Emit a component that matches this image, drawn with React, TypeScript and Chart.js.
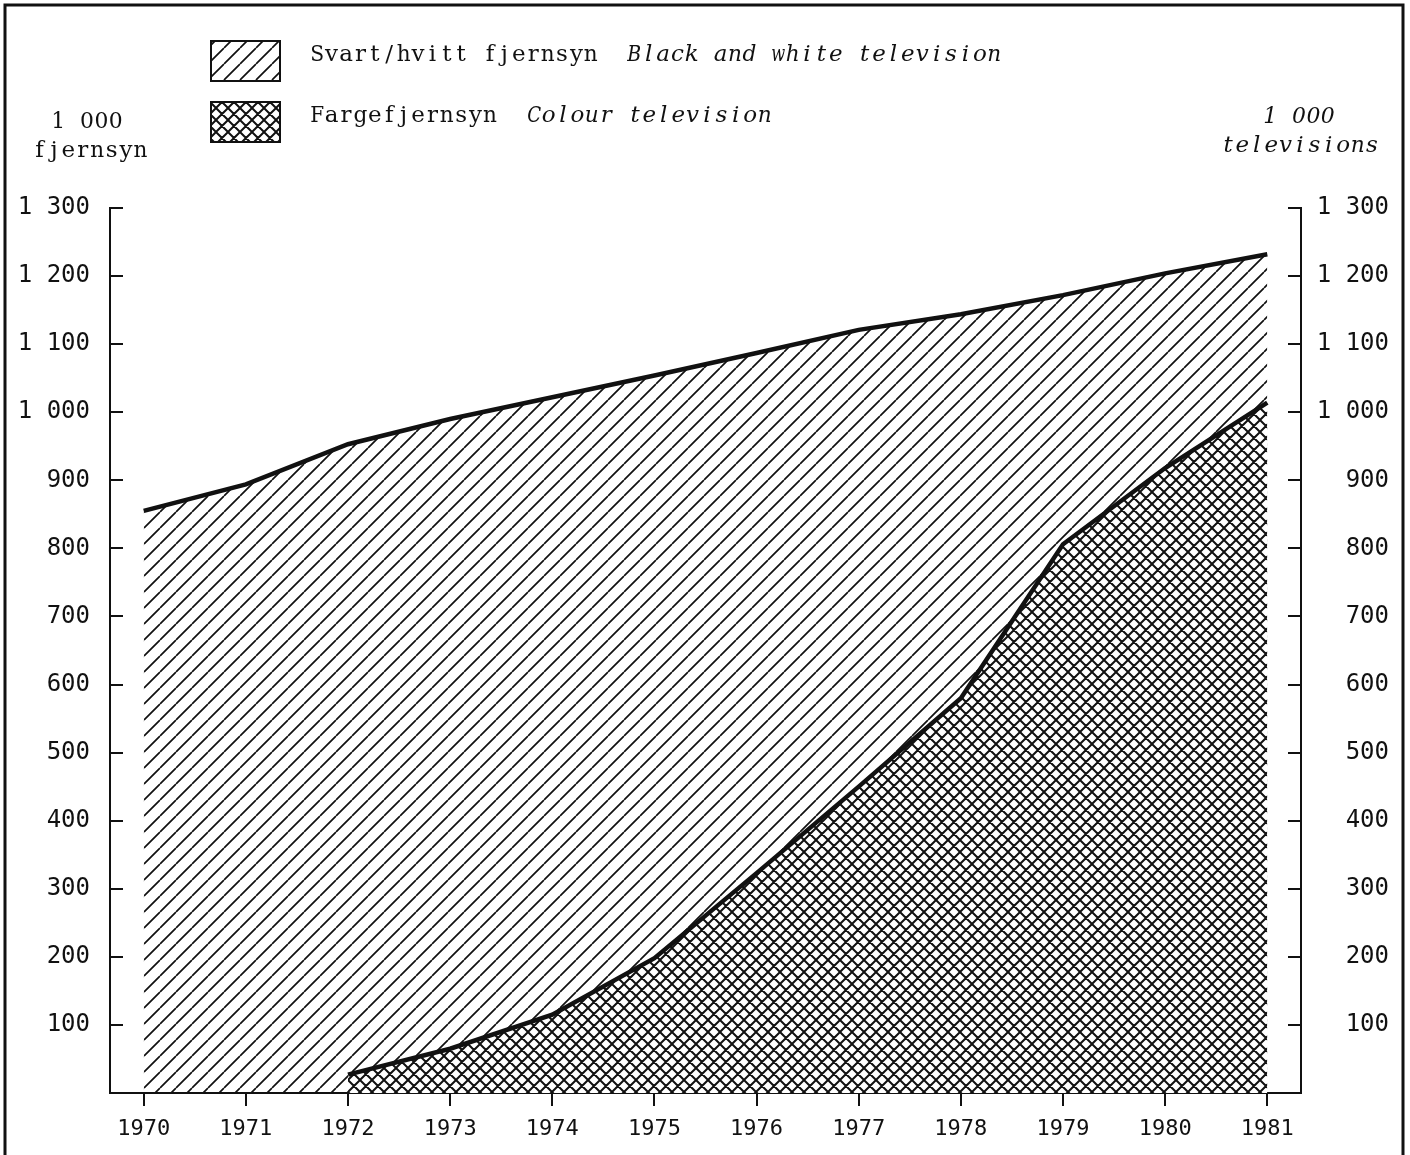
import React, { useEffect, useRef } from 'react';
import { Chart, registerables } from 'chart.js';

Chart.register(...registerables);

// ---- data ----
const years = [1970, 1971, 1972, 1973, 1974, 1975, 1976, 1977, 1978, 1979, 1980, 1981];
const totalTelevisions = [855, 894, 953, 990, 1022, 1054, 1087, 1121, 1144, 1172, 1204, 1232];
const colourTelevisions = [null, null, 27, 65, 115, 198, 323, 450, 580, 806, 918, 1014];
const yTickValues = [100, 200, 300, 400, 500, 600, 700, 800, 900, 1000, 1100, 1200, 1300];

const legendNo = ['Svart/hvitt fjernsyn', 'Fargefjernsyn'];
const legendEn = ['Black and white television', 'Colour television'];
const leftTitle = ['1 000', 'fjernsyn'];
const rightTitle = ['1 000', 'televisions'];

const INK = '#111';
const SERIF = '"DejaVu Serif", "Liberation Serif", serif';
const NUM = '"DejaVu Sans Mono", monospace';
const PITCH = 14.4;

function fmtY(v: number): string {
  if (v === 0) return '';
  if (v >= 1000) return '1 ' + String(v - 1000).padStart(3, '0');
  return String(v);
}

function makePattern(ctx: CanvasRenderingContext2D, size: number, lw: number, cross: boolean, bg: string | null) {
  const c = document.createElement('canvas');
  c.width = size;
  c.height = size;
  const g = c.getContext('2d')!;
  if (bg) {
    g.fillStyle = bg;
    g.fillRect(0, 0, size, size);
  }
  g.strokeStyle = INK;
  g.lineWidth = lw;
  g.beginPath();
  for (let k = -1; k <= 1; k++) {
    g.moveTo(k * size, size);
    g.lineTo(k * size + size, 0);
    if (cross) {
      g.moveTo(k * size, 0);
      g.lineTo(k * size + size, size);
    }
  }
  g.stroke();
  return ctx.createPattern(c, 'repeat')!;
}

// typewriter-like text: each character centred in a fixed-pitch cell
function typeText(c: CanvasRenderingContext2D, text: string, x: number, y: number, italic: boolean, align: 'left' | 'center' = 'left') {
  c.save();
  c.font = `${italic ? 'italic ' : ''}23px ${SERIF}`;
  c.textAlign = 'center';
  c.textBaseline = 'middle';
  c.fillStyle = INK;
  const w = text.length * PITCH;
  const x0 = align === 'center' ? x - w / 2 : x;
  for (let i = 0; i < text.length; i++) {
    const ch = text[i];
    if (ch === ' ') continue;
    const cw = c.measureText(ch).width;
    const cx = x0 + i * PITCH + PITCH / 2;
    const maxW = PITCH - 0.5;
    if (cw > maxW) {
      c.save();
      c.translate(cx, y);
      c.scale(maxW / cw, 1);
      c.fillText(ch, 0, 0);
      c.restore();
    } else {
      c.fillText(ch, cx, y);
    }
  }
  c.restore();
}

export default function App() {
  const ref = useRef<HTMLCanvasElement | null>(null);

  useEffect(() => {
    document.body.style.margin = '0';
    const canvas = ref.current!;
    const ctx = canvas.getContext('2d')!;
    const diag = makePattern(ctx, 16, 1.7, false, null);
    const crossPat = makePattern(ctx, 12, 2, true, '#ffffff');

    const totalPts = years.map((y, i) => ({ x: y, y: totalTelevisions[i] }));
    const colourPts = years
      .map((y, i) => ({ x: y, y: colourTelevisions[i] }))
      .filter((p) => p.y !== null) as { x: number; y: number }[];

    const decor = {
      id: 'decor',
      afterDraw(chart: any) {
        const c = chart.ctx as CanvasRenderingContext2D;
        const area = chart.chartArea;
        const yL = chart.scales.y;
        c.save();
        // outer frame
        c.strokeStyle = INK;
        c.lineWidth = 3;
        c.beginPath();
        c.moveTo(5, 1155);
        c.lineTo(5, 5);
        c.lineTo(1403, 5);
        c.lineTo(1403, 1155);
        c.stroke();

        // inward y ticks
        c.lineWidth = 2;
        c.beginPath();
        yTickValues.forEach((v) => {
          const py = Math.round(yL.getPixelForValue(v));
          c.moveTo(area.left, py);
          c.lineTo(area.left + 13, py);
          c.moveTo(area.right, py);
          c.lineTo(area.right - 13, py);
        });
        c.stroke();

        // legend
        const boxes = [
          { y: 41, pat: diag },
          { y: 102, pat: crossPat },
        ];
        boxes.forEach((b, i) => {
          c.fillStyle = '#fff';
          c.fillRect(211, b.y, 69, 40);
          c.fillStyle = b.pat;
          c.fillRect(211, b.y, 69, 40);
          c.lineWidth = 2;
          c.strokeStyle = INK;
          c.strokeRect(211, b.y, 69, 40);
          typeText(c, legendNo[i], 310, b.y + 14, false);
          typeText(c, legendEn[i], i === 0 ? 627 : 527, b.y + 14, true);
        });

        // axis titles
        typeText(c, leftTitle[0], 87, 122, false, 'center');
        typeText(c, leftTitle[1], 90, 151, false, 'center');
        typeText(c, rightTitle[0], 1299, 117, true, 'center');
        typeText(c, rightTitle[1], 1300, 146, true, 'center');
        c.restore();
      },
    };

    const chart = new Chart(canvas, {
      type: 'line',
      data: {
        datasets: [
          {
            label: legendNo[1],
            data: colourPts,
            borderColor: INK,
            borderWidth: 4.5,
            pointRadius: 0,
            tension: 0,
            fill: 'origin',
            backgroundColor: crossPat,
          },
          {
            label: legendNo[0],
            data: totalPts,
            borderColor: INK,
            borderWidth: 4.5,
            pointRadius: 0,
            tension: 0,
            fill: 'origin',
            backgroundColor: diag,
          },
        ],
      },
      options: {
        responsive: false,
        animation: false,
        events: [],
        layout: { padding: { top: 208, right: 21, left: 0, bottom: 0 } },
        plugins: {
          legend: { display: false },
          tooltip: { enabled: false },
        },
        scales: {
          x: {
            type: 'linear',
            min: 1969.67,
            max: 1981.33,
            ticks: {
              stepSize: 1,
              includeBounds: false,
              autoSkip: false,
              maxRotation: 0,
              padding: 10,
              color: INK,
              font: { family: NUM, size: 22 },
              callback: (v: any) => (Number.isInteger(v) ? String(v) : ''),
            },
            grid: { drawOnChartArea: false, drawTicks: true, tickLength: 13, color: INK, lineWidth: 2 },
            border: { display: true, color: INK, width: 2 },
            afterFit: (s: any) => {
              s.height = 62;
            },
          },
          y: {
            position: 'left',
            min: 0,
            max: 1300,
            ticks: {
              stepSize: 100,
              padding: 20,
              color: INK,
              font: { family: NUM, size: 24 },
              callback: (v: any) => fmtY(Number(v)),
            },
            grid: { display: false, drawTicks: false },
            border: { display: true, color: INK, width: 2 },
            afterFit: (s: any) => {
              s.width = 110;
            },
          },
          y2: {
            position: 'right',
            min: 0,
            max: 1300,
            ticks: {
              stepSize: 100,
              padding: 16,
              crossAlign: 'far',
              color: INK,
              font: { family: NUM, size: 24 },
              callback: (v: any) => fmtY(Number(v)),
            },
            grid: { display: false, drawTicks: false },
            border: { display: true, color: INK, width: 2 },
            afterFit: (s: any) => {
              s.width = 88;
            },
          },
        },
      } as any,
      plugins: [decor],
    });

    return () => chart.destroy();
  }, []);

  return <canvas ref={ref} width={1410} height={1155} style={{ display: 'block' }} />;
}
